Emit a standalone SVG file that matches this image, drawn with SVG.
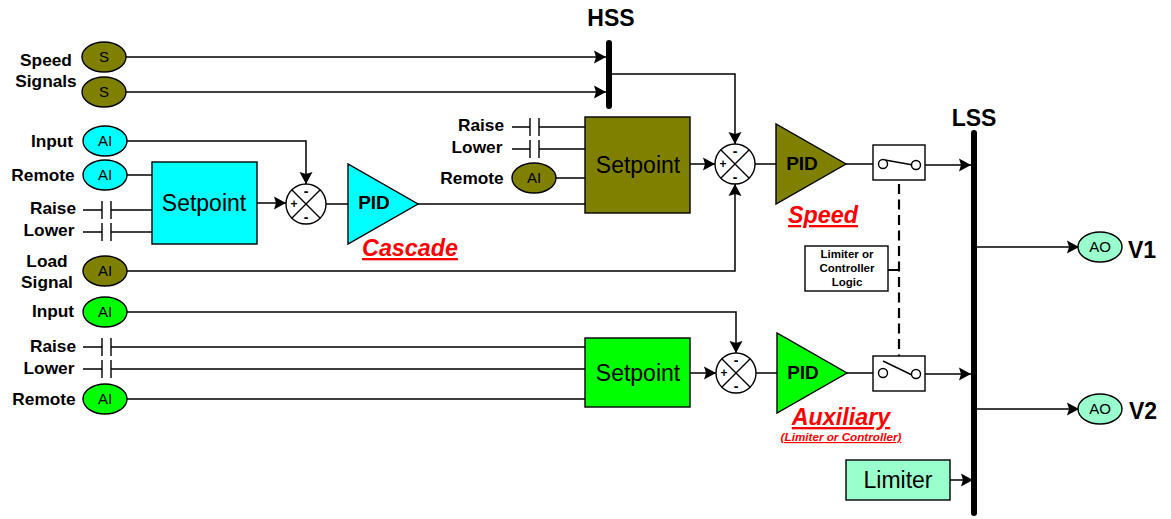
<svg xmlns="http://www.w3.org/2000/svg" width="1171" height="519" viewBox="0 0 1171 519">
<style>
text{font-family:"Liberation Sans",Arial,sans-serif;fill:#000;text-anchor:middle}
.l{font-weight:bold;font-size:17.3px}
.h{font-weight:bold;font-size:23px}
.e{font-size:15px}
.b{font-size:23px}
.p{font-weight:bold;font-size:19px}
.t{font-weight:bold;font-size:11.5px}
.r{font-weight:bold;font-style:italic;font-size:23.3px;fill:#f00;text-decoration:underline}
.s{stroke:#000;stroke-width:1.4}
.c{fill:none;stroke:#000;stroke-width:1.5}
.o{fill:#808000}.y{fill:#0ff}.g{fill:#0f0}.m{fill:#9fc}.w{fill:#fff}
.bar{stroke:#000;stroke-width:6;stroke-linecap:round;fill:none}
.pm{font-weight:bold;font-size:12px}
</style>
<defs>
<marker id="a" markerUnits="userSpaceOnUse" markerWidth="13" markerHeight="14" refX="12" refY="7" orient="auto"><path d="M0 0.5L12 7L0 13.5L2 7Z" fill="#000"/></marker>
</defs>
<g id="connectors">
<path class="c" marker-end="url(#a)" d="M126 57H606"/>
<path class="c" marker-end="url(#a)" d="M126 92H606"/>
<path class="c" marker-end="url(#a)" d="M612 74H735V144"/>
<path class="c" marker-end="url(#a)" d="M127 141H306V184"/>
<path class="c" d="M127 175H152"/>
<path class="c" d="M83 210H102M111 210H152M83 232H102M111 232H152"/>
<path class="s" d="M102 201V219M111 201V219M102 223V241M111 223V241"/>
<path class="c" marker-end="url(#a)" d="M257 203H286"/>
<path class="c" d="M326 204H348M418 204H585"/>
<path class="c" d="M512 127H530M539 127H585M512 149H530M539 149H585M556 178H585"/>
<path class="s" d="M530 118V136M539 118V136M530 140V158M539 140V158"/>
<path class="c" marker-end="url(#a)" d="M690 164H715"/>
<path class="c" marker-end="url(#a)" d="M127 271H735V184"/>
<path class="c" d="M755 164H776M846 164H879"/>
<path class="c" marker-end="url(#a)" d="M920 165H971"/>
<path class="c" marker-end="url(#a)" d="M127 312H736V353"/>
<path class="c" d="M83 347H102M111 347H585M83 369H102M111 369H585M127 399H585"/>
<path class="s" d="M102 338V356M111 338V356M102 360V378M111 360V378"/>
<path class="c" marker-end="url(#a)" d="M690 373H716"/>
<path class="c" d="M756 373H777M847 373H879"/>
<path class="c" marker-end="url(#a)" d="M920 374H971"/>
<path class="c" style="stroke-width:2.2" stroke-dasharray="10 5.5" d="M899 184V356"/>
<path class="c" d="M888 270H899" style="stroke-width:2"/>
<path class="c" marker-end="url(#a)" d="M977 247H1079"/>
<path class="c" marker-end="url(#a)" d="M977 409H1079"/>
<path class="c" marker-end="url(#a)" d="M950 480H973"/>
</g>
<g id="hss"><path class="bar" d="M609 43V106"/><text class="h" x="611" y="26">HSS</text></g>
<g id="lss"><path class="bar" d="M974 133V513"/><text class="h" x="974" y="126">LSS</text></g>
<g id="speed-signals"><text class="l" x="46" y="66">Speed</text><text class="l" x="46" y="87">Signals</text>
<ellipse class="o s" cx="104" cy="57" rx="22" ry="15"/><text class="e" x="104" y="62">S</text>
<ellipse class="o s" cx="104" cy="92" rx="22" ry="15"/><text class="e" x="104" y="97">S</text></g>
<g id="cascade-input"><text class="l" x="52" y="147">Input</text><ellipse class="y s" cx="105" cy="141" rx="22" ry="15"/><text class="e" x="105" y="146">AI</text></g>
<g id="cascade-remote"><text class="l" x="43" y="181">Remote</text><ellipse class="y s" cx="105" cy="175" rx="22" ry="15"/><text class="e" x="105" y="180">AI</text></g>
<g id="cascade-contacts"><text class="l" x="53" y="214">Raise</text><text class="l" x="49" y="236">Lower</text></g>
<g id="cascade-setpoint"><rect class="y s" x="152" y="162" width="105" height="82"/><text class="b" x="204" y="211">Setpoint</text></g>
<g id="cascade-sum"><circle class="w s" cx="306" cy="204" r="20"/><path class="s" d="M292 190L320 218M320 190L292 218"/><text class="pm" x="294" y="208">+</text><text class="pm" style="font-size:14px" x="306" y="196">-</text><text class="pm" style="font-size:14px" x="306" y="222">-</text></g>
<g id="cascade-pid"><path class="y s" d="M348 164V244L418 204Z"/><text class="p" x="374" y="209">PID</text><text class="r" x="410" y="256">Cascade</text></g>
<g id="load-signal"><text class="l" x="47" y="267">Load</text><text class="l" x="47" y="288">Signal</text><ellipse class="o s" cx="105" cy="271" rx="22" ry="15"/><text class="e" x="105" y="276">AI</text></g>
<g id="speed-contacts"><text class="l" x="481" y="131">Raise</text><text class="l" x="477" y="153">Lower</text></g>
<g id="speed-remote"><text class="l" x="472" y="184">Remote</text><ellipse class="o s" cx="534" cy="178" rx="22" ry="15"/><text class="e" x="534" y="183">AI</text></g>
<g id="speed-setpoint"><rect class="o s" x="585" y="117" width="105" height="96"/><text class="b" x="638" y="173">Setpoint</text></g>
<g id="speed-sum"><circle class="w s" cx="735" cy="164" r="20"/><path class="s" d="M721 150L749 178M749 150L721 178"/><text class="pm" x="723" y="168">+</text><text class="pm" style="font-size:14px" x="735" y="156">-</text><text class="pm" style="font-size:14px" x="735" y="182">-</text></g>
<g id="speed-pid"><path class="o s" d="M776 124V204L846 164Z"/><text class="p" x="802" y="170">PID</text><text class="r" x="823" y="223">Speed</text></g>
<g id="speed-switch"><rect class="w s" x="873" y="145" width="52" height="35"/><path class="s" d="M885 160L913 165"/><circle class="w s" cx="883" cy="164" r="4.5"/><circle class="w s" cx="916" cy="165" r="4.5"/></g>
<g id="logic"><rect class="w s" x="805" y="246" width="83" height="45"/><text class="t" x="847" y="258">Limiter or</text><text class="t" x="847" y="272">Controller</text><text class="t" x="847" y="286">Logic</text></g>
<g id="aux-input"><text class="l" x="53" y="317">Input</text><ellipse class="g s" cx="105" cy="312" rx="22" ry="15"/><text class="e" x="105" y="317">AI</text></g>
<g id="aux-contacts"><text class="l" x="53" y="352">Raise</text><text class="l" x="49" y="374">Lower</text></g>
<g id="aux-remote"><text class="l" x="44" y="405">Remote</text><ellipse class="g s" cx="105" cy="399" rx="22" ry="15"/><text class="e" x="105" y="404">AI</text></g>
<g id="aux-setpoint"><rect class="g s" x="585" y="338" width="105" height="69"/><text class="b" x="638" y="381">Setpoint</text></g>
<g id="aux-sum"><circle class="w s" cx="736" cy="373" r="20"/><path class="s" d="M722 359L750 387M750 359L722 387"/><text class="pm" x="724" y="377">+</text><text class="pm" style="font-size:14px" x="736" y="365">-</text><text class="pm" style="font-size:14px" x="736" y="391">-</text></g>
<g id="aux-pid"><path class="g s" d="M777 333V413L847 373Z"/><text class="p" x="803" y="379">PID</text><text class="r" x="841" y="425">Auxiliary</text><text class="r" style="font-size:11.7px" x="841" y="441">(Limiter or Controller)</text></g>
<g id="aux-switch"><rect class="w s" x="873" y="356" width="52" height="35"/><path class="s" d="M883 361L912 375"/><circle class="w s" cx="883" cy="373" r="4.5"/><circle class="w s" cx="916" cy="374" r="4.5"/></g>
<g id="limiter"><rect class="m s" x="846" y="460" width="104" height="40"/><text class="b" x="898" y="488">Limiter</text></g>
<g id="v1"><ellipse class="m s" cx="1100" cy="247" rx="22" ry="15"/><text class="e" x="1100" y="252">AO</text><text class="h" x="1142" y="258">V1</text></g>
<g id="v2"><ellipse class="m s" cx="1100" cy="409" rx="22" ry="15"/><text class="e" x="1100" y="414">AO</text><text class="h" x="1143" y="419">V2</text></g>
</svg>
